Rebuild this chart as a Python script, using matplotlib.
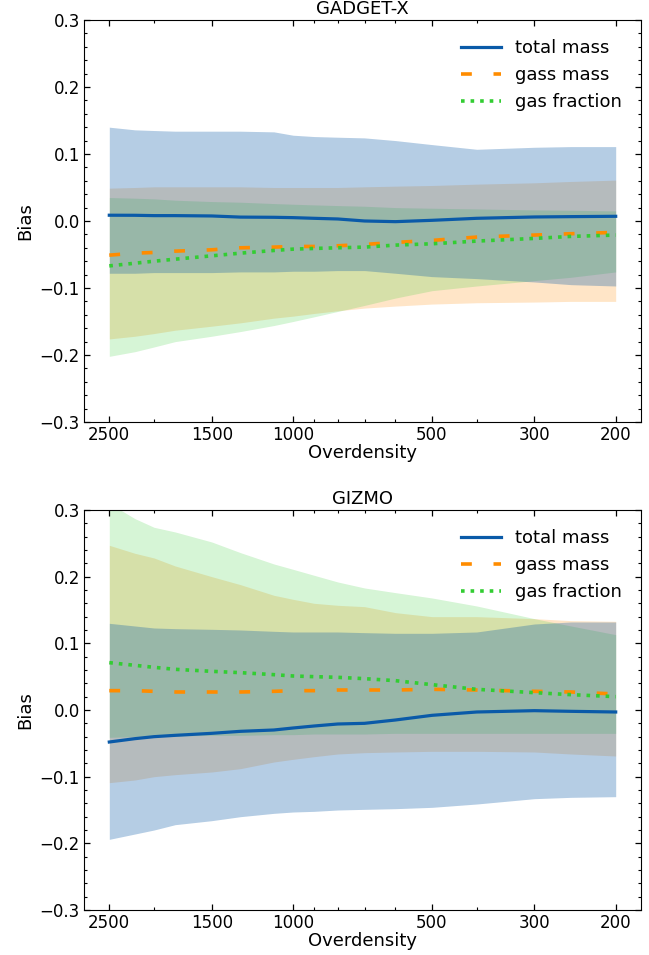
import numpy as np
import matplotlib
matplotlib.use("Agg")
import matplotlib.pyplot as plt
from matplotlib.ticker import AutoMinorLocator, NullFormatter

overdensity = [2500, 2200, 2000, 1800, 1500, 1300, 1100, 1000, 900, 800, 700, 600, 500, 400, 300, 250, 200]
tick_values = [2500, 1500, 1000, 500, 300, 200]
tick_labels = ["2500", "1500", "1000", "500", "300", "200"]

# ---------------- GADGET-X ----------------
gx_total = [0.0086, 0.0085, 0.008, 0.008, 0.0075, 0.0058, 0.0055, 0.005, 0.004, 0.003, 0.000, -0.001, 0.001, 0.004, 0.006, 0.0065, 0.007]
gx_total_hi = [0.140, 0.136, 0.135, 0.134, 0.134, 0.134, 0.133, 0.128, 0.126, 0.125, 0.124, 0.120, 0.114, 0.107, 0.110, 0.111, 0.111]
gx_total_lo = [-0.078, -0.078, -0.077, -0.077, -0.077, -0.076, -0.076, -0.075, -0.075, -0.074, -0.074, -0.078, -0.083, -0.086, -0.091, -0.095, -0.097]

gx_gas = [-0.051, -0.048, -0.047, -0.045, -0.043, -0.040, -0.039, -0.038, -0.038, -0.037, -0.035, -0.032, -0.029, -0.024, -0.021, -0.019, -0.017]
gx_gas_hi = [0.049, 0.050, 0.051, 0.051, 0.051, 0.051, 0.050, 0.050, 0.050, 0.050, 0.051, 0.052, 0.053, 0.055, 0.057, 0.059, 0.061]
gx_gas_lo = [-0.176, -0.172, -0.168, -0.163, -0.157, -0.152, -0.145, -0.142, -0.138, -0.134, -0.130, -0.127, -0.124, -0.122, -0.121, -0.120, -0.120]

gx_frac = [-0.067, -0.063, -0.060, -0.057, -0.052, -0.048, -0.044, -0.042, -0.041, -0.040, -0.039, -0.036, -0.034, -0.030, -0.026, -0.023, -0.021]
gx_frac_hi = [0.035, 0.034, 0.033, 0.031, 0.029, 0.028, 0.026, 0.025, 0.024, 0.023, 0.022, 0.020, 0.019, 0.018, 0.0165, 0.016, 0.015]
gx_frac_lo = [-0.202, -0.195, -0.188, -0.180, -0.172, -0.165, -0.156, -0.150, -0.143, -0.135, -0.126, -0.115, -0.104, -0.097, -0.089, -0.084, -0.076]

# ---------------- GIZMO ----------------
gz_total = [-0.048, -0.043, -0.040, -0.038, -0.035, -0.032, -0.030, -0.027, -0.024, -0.021, -0.020, -0.015, -0.008, -0.003, -0.001, -0.002, -0.003]
gz_total_hi = [0.130, 0.126, 0.123, 0.122, 0.121, 0.120, 0.118, 0.117, 0.117, 0.117, 0.116, 0.115, 0.115, 0.117, 0.129, 0.132, 0.132]
gz_total_lo = [-0.194, -0.186, -0.180, -0.172, -0.166, -0.160, -0.155, -0.153, -0.152, -0.150, -0.149, -0.148, -0.146, -0.141, -0.133, -0.131, -0.130]

gz_gas = [0.029, 0.029, 0.028, 0.027, 0.027, 0.027, 0.028, 0.029, 0.029, 0.030, 0.030, 0.030, 0.031, 0.030, 0.028, 0.027, 0.024]
gz_gas_hi = [0.247, 0.235, 0.228, 0.216, 0.200, 0.188, 0.172, 0.166, 0.160, 0.157, 0.155, 0.146, 0.140, 0.140, 0.137, 0.134, 0.133]
gz_gas_lo = [-0.109, -0.105, -0.100, -0.097, -0.093, -0.088, -0.078, -0.074, -0.070, -0.066, -0.064, -0.063, -0.062, -0.062, -0.063, -0.066, -0.069]

gz_frac = [0.071, 0.067, 0.064, 0.061, 0.058, 0.056, 0.053, 0.051, 0.050, 0.049, 0.047, 0.044, 0.038, 0.031, 0.026, 0.023, 0.020]
gz_frac_hi = [0.310, 0.287, 0.274, 0.267, 0.252, 0.236, 0.219, 0.211, 0.202, 0.192, 0.183, 0.176, 0.168, 0.156, 0.137, 0.126, 0.113]
gz_frac_lo = [-0.041, -0.040, -0.040, -0.039, -0.038, -0.038, -0.037, -0.037, -0.036, -0.036, -0.036, -0.035, -0.035, -0.035, -0.035, -0.035, -0.035]

C_BLUE = "#0a5aa8"
C_ORANGE = "#ff8c00"
C_GREEN = "#32cd32"

plt.rcParams["font.family"] = ["DejaVu Sans"]
FS_TICK = 12
FS_LAB = 13
FS_LEG = 13

fig = plt.figure(figsize=(6.49, 9.55), dpi=100)
ax1 = fig.add_axes([0.1294, 0.5581, 0.8583, 0.4210])
ax2 = fig.add_axes([0.1294, 0.0471, 0.8583, 0.4189])

panels = [
    (ax1, "GADGET-X", gx_total, gx_total_lo, gx_total_hi, gx_gas, gx_gas_lo, gx_gas_hi, gx_frac, gx_frac_lo, gx_frac_hi),
    (ax2, "GIZMO", gz_total, gz_total_lo, gz_total_hi, gz_gas, gz_gas_lo, gz_gas_hi, gz_frac, gz_frac_lo, gz_frac_hi),
]

for ax, title, t, tlo, thi, g, glo, ghi, f, flo, fhi in panels:
    ax.fill_between(overdensity, glo, ghi, color=C_ORANGE, alpha=0.22, linewidth=0, zorder=1)
    ax.fill_between(overdensity, flo, fhi, color=C_GREEN, alpha=0.2, linewidth=0, zorder=1.1)
    ax.fill_between(overdensity, tlo, thi, color=C_BLUE, alpha=0.3, linewidth=0, zorder=1.2)
    ax.plot(overdensity, t, color=C_BLUE, lw=2.3, label="total mass", zorder=3)
    ax.plot(overdensity, g, color=C_ORANGE, lw=2.6, linestyle=(0, (3, 6)), label="gass mass", zorder=3)
    ax.plot(overdensity, f, color=C_GREEN, lw=2.6, linestyle=(0, (1, 1.65)), label="gas fraction", zorder=3)
    ax.set_xscale("log")
    ax.invert_xaxis()
    ax.set_xticks(tick_values)
    ax.set_xticklabels(tick_labels)
    ax.xaxis.set_minor_formatter(NullFormatter())
    ax.set_ylim(-0.3, 0.3)
    ax.set_yticks([-0.3, -0.2, -0.1, 0.0, 0.1, 0.2, 0.3])
    ax.yaxis.set_minor_locator(AutoMinorLocator(5))
    ax.tick_params(which="both", direction="in", top=True, right=True, labelsize=FS_TICK)
    ax.tick_params(which="major", length=4, width=0.9, pad=3)
    ax.tick_params(which="minor", length=2.2, width=0.8)
    ax.set_title(title, fontsize=FS_LAB, pad=4)
    ax.set_xlabel("Overdensity", fontsize=FS_LAB, labelpad=0)
    ax.set_ylabel("Bias", fontsize=FS_LAB, labelpad=4)
    ax.legend(loc="upper right", frameon=False, fontsize=FS_LEG, handlelength=2.2,
              handletextpad=0.8, labelspacing=0.5, borderaxespad=0.65)

fig.savefig("out.png", dpi=100)
